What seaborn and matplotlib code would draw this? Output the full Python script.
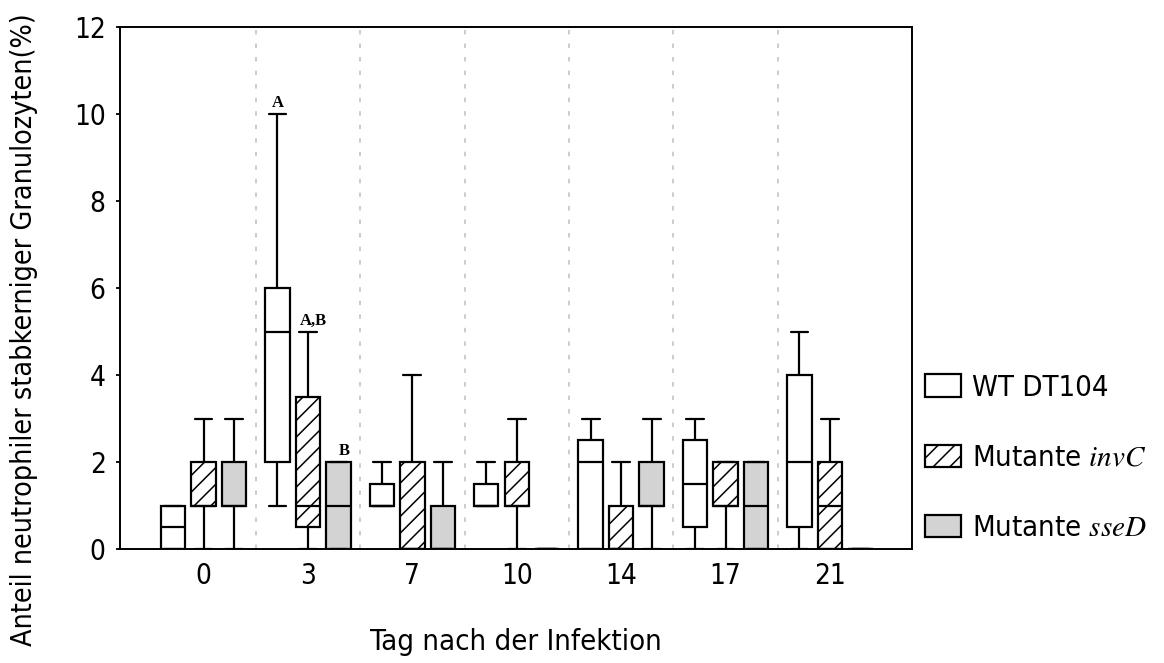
import matplotlib
matplotlib.use("Agg")
import matplotlib.pyplot as plt
import numpy as np
import pandas as pd
import seaborn as sns

# Days after infection (x categories)
days = [0, 3, 7, 10, 14, 17, 21]

# Series names as shown in the legend
series_names = ["WT DT104", "Mutante invC", "Mutante sseD"]
legend_labels = ["WT DT104", "Mutante $invC$", "Mutante $sseD$"]

# Five-number summaries per day: (min, q1, median, q3, max), in %
wt_dt104 = [
    (0, 0, 0.5, 1, 1),
    (1, 2, 5, 6, 10),
    (1, 1, 1, 1.5, 2),
    (1, 1, 1, 1.5, 2),
    (0, 0, 2, 2.5, 3),
    (0, 0.5, 1.5, 2.5, 3),
    (0, 0.5, 2, 4, 5),
]
mutante_invc = [
    (0, 1, 1, 2, 3),
    (0, 0.5, 1, 3.5, 5),
    (0, 0, 0, 2, 4),
    (0, 1, 1, 2, 3),
    (0, 0, 0, 1, 2),
    (0, 1, 1, 2, 2),
    (0, 0, 1, 2, 3),
]
mutante_ssed = [
    (0, 1, 1, 2, 3),
    (0, 0, 1, 2, 2),
    (0, 0, 0, 1, 2),
    (0, 0, 0, 0, 0),
    (0, 1, 1, 2, 3),
    (0, 0, 1, 2, 2),
    (0, 0, 0, 0, 0),
]

# Significance letters on day 3
letters_day = 3
letters = ["A", "A,B", "B"]

# Long-format table: five values per box give exactly these quartiles/extremes
rows = []
for name, summaries in zip(series_names, [wt_dt104, mutante_invc, mutante_ssed]):
    for day, five in zip(days, summaries):
        for v in five:
            rows.append({"Tag": str(day), "Serie": name, "Wert": v})
df = pd.DataFrame(rows)

sns.set_style("white")
plt.rcParams["font.family"] = ["DejaVu Sans"]
plt.rcParams["font.stretch"] = "condensed"
plt.rcParams["mathtext.fontset"] = "stix"
plt.rcParams["hatch.linewidth"] = 1.1
plt.rcParams["hatch.color"] = "black"
for key in ["text.color", "axes.labelcolor", "xtick.color", "ytick.color"]:
    plt.rcParams[key] = "black"

fig = plt.figure(figsize=(11.64, 6.63), dpi=100)
ax = fig.add_axes([119.5 / 1164, 114 / 663, 792.2 / 1164, 522 / 663])

palette = {"WT DT104": "white", "Mutante invC": "white", "Mutante sseD": "#d3d3d3"}
group_width = 0.876
order = [str(d) for d in days]

first_patch = {}
for name in series_names:
    n_before = len(ax.patches)
    sns.boxplot(
        data=df[df["Serie"] == name], x="Tag", y="Wert", hue="Serie",
        order=order, hue_order=series_names, palette=palette,
        dodge=True, width=group_width, gap=0.2, whis=(0, 100),
        linecolor="black", linewidth=1.6, saturation=1, legend=False,
        showfliers=False, capwidths=0.17, ax=ax,
    )
    new = ax.patches[n_before:]
    for p in new:
        p.set_edgecolor("black")
        if name == "Mutante invC":
            p.set_hatch("//")
    first_patch[name] = new[0]

# Dotted separators between days
for i in range(len(days) - 1):
    ax.axvline(i + 0.5, color="#c8c8c8", lw=1.3, ls=(0, (2.5, 5)), zorder=0)

# Letters above the day-3 boxes
di = days.index(letters_day)
for k, (name, summaries, txt) in enumerate(
        zip(series_names, [wt_dt104, mutante_invc, mutante_ssed], letters)):
    offset = group_width * (k / 3 - 0.5 + 1 / 6)
    top = summaries[di][4]
    ax.annotate(txt, (di + offset, top), xytext=(4 if k else 0, 2),
                textcoords="offset points", ha="center", va="bottom",
                fontsize=12, fontweight="bold", family="Liberation Serif",
                color="black")

ax.set_xlim(-0.805, 6.783)
ax.set_ylim(0, 12)
ax.set_yticks(np.arange(0, 13, 2))
ax.set_xticks(range(len(days)))
ax.set_xticklabels(order)

for s in ax.spines.values():
    s.set_visible(True)
    s.set_color("black")
    s.set_linewidth(1.4)

ax.tick_params(axis="y", length=3, width=1.3, pad=7, labelsize=20,
               direction="out", left=True, colors="black")
ax.tick_params(axis="x", length=0, pad=9, labelsize=20, colors="black")

ax.set_xlabel("Tag nach der Infektion", fontsize=21, labelpad=28, color="black")
ax.set_ylabel("Anteil neutrophiler stabkerniger Granulozyten(%)", fontsize=20.5,
              labelpad=26, color="black", y=0.42)

ax.legend(
    handles=[first_patch[n] for n in series_names], labels=legend_labels,
    loc="center left", bbox_to_anchor=(925 / 1164, (663 - 458) / 663),
    bbox_transform=fig.transFigure, frameon=False, fontsize=21,
    handlelength=1.25, handleheight=0.8, handletextpad=0.35,
    labelspacing=1.45, borderpad=0, borderaxespad=0, labelcolor="black",
)

fig.savefig("out.png", dpi=100)
